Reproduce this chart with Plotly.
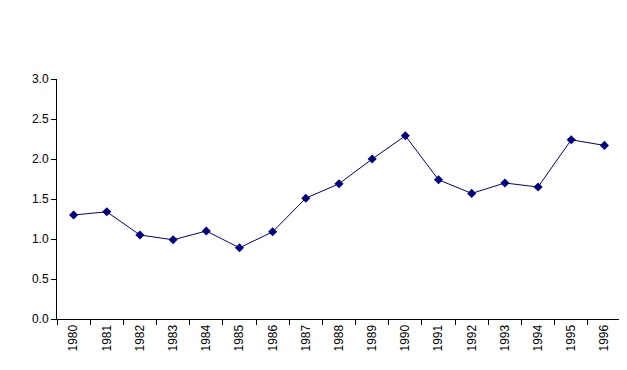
import plotly.graph_objects as go

years = [str(y) for y in range(1980, 1997)]
values = [1.30, 1.34, 1.05, 0.99, 1.10, 0.89, 1.09, 1.51, 1.69, 2.00, 2.29, 1.74, 1.57, 1.70, 1.65, 2.24, 2.17]
y_ticks = [0.0, 0.5, 1.0, 1.5, 2.0, 2.5, 3.0]

fig = go.Figure()
fig.add_trace(go.Scatter(
    x=years, y=values, mode="lines+markers",
    line=dict(color="#000080", width=1),
    marker=dict(symbol="diamond", size=7, color="#000080"),
))
# page body has an 8px default margin, so the figure is offset by 8px
fig.update_layout(
    width=619, height=362,
    margin=dict(l=49, r=6, t=71, b=51),
    paper_bgcolor="white", plot_bgcolor="white",
    showlegend=False,
    font=dict(family="Liberation Sans, Arial, sans-serif", size=12, color="black"),
)
fig.update_xaxes(
    type="category", tickangle=-90, tickson="boundaries",
    ticks="outside", ticklen=5, tickcolor="black",
    showline=True, linecolor="black", linewidth=1,
    showgrid=False, zeroline=False, automargin=False,
    range=[-0.5, len(years) - 0.5],
)
fig.update_yaxes(
    range=[0, 3.0], tickvals=y_ticks, tickformat=".1f",
    ticks="outside", ticklen=5, tickcolor="black",
    showline=True, linecolor="black", linewidth=1,
    showgrid=False, zeroline=False, automargin=False,
)
fig.write_html("out.html")
